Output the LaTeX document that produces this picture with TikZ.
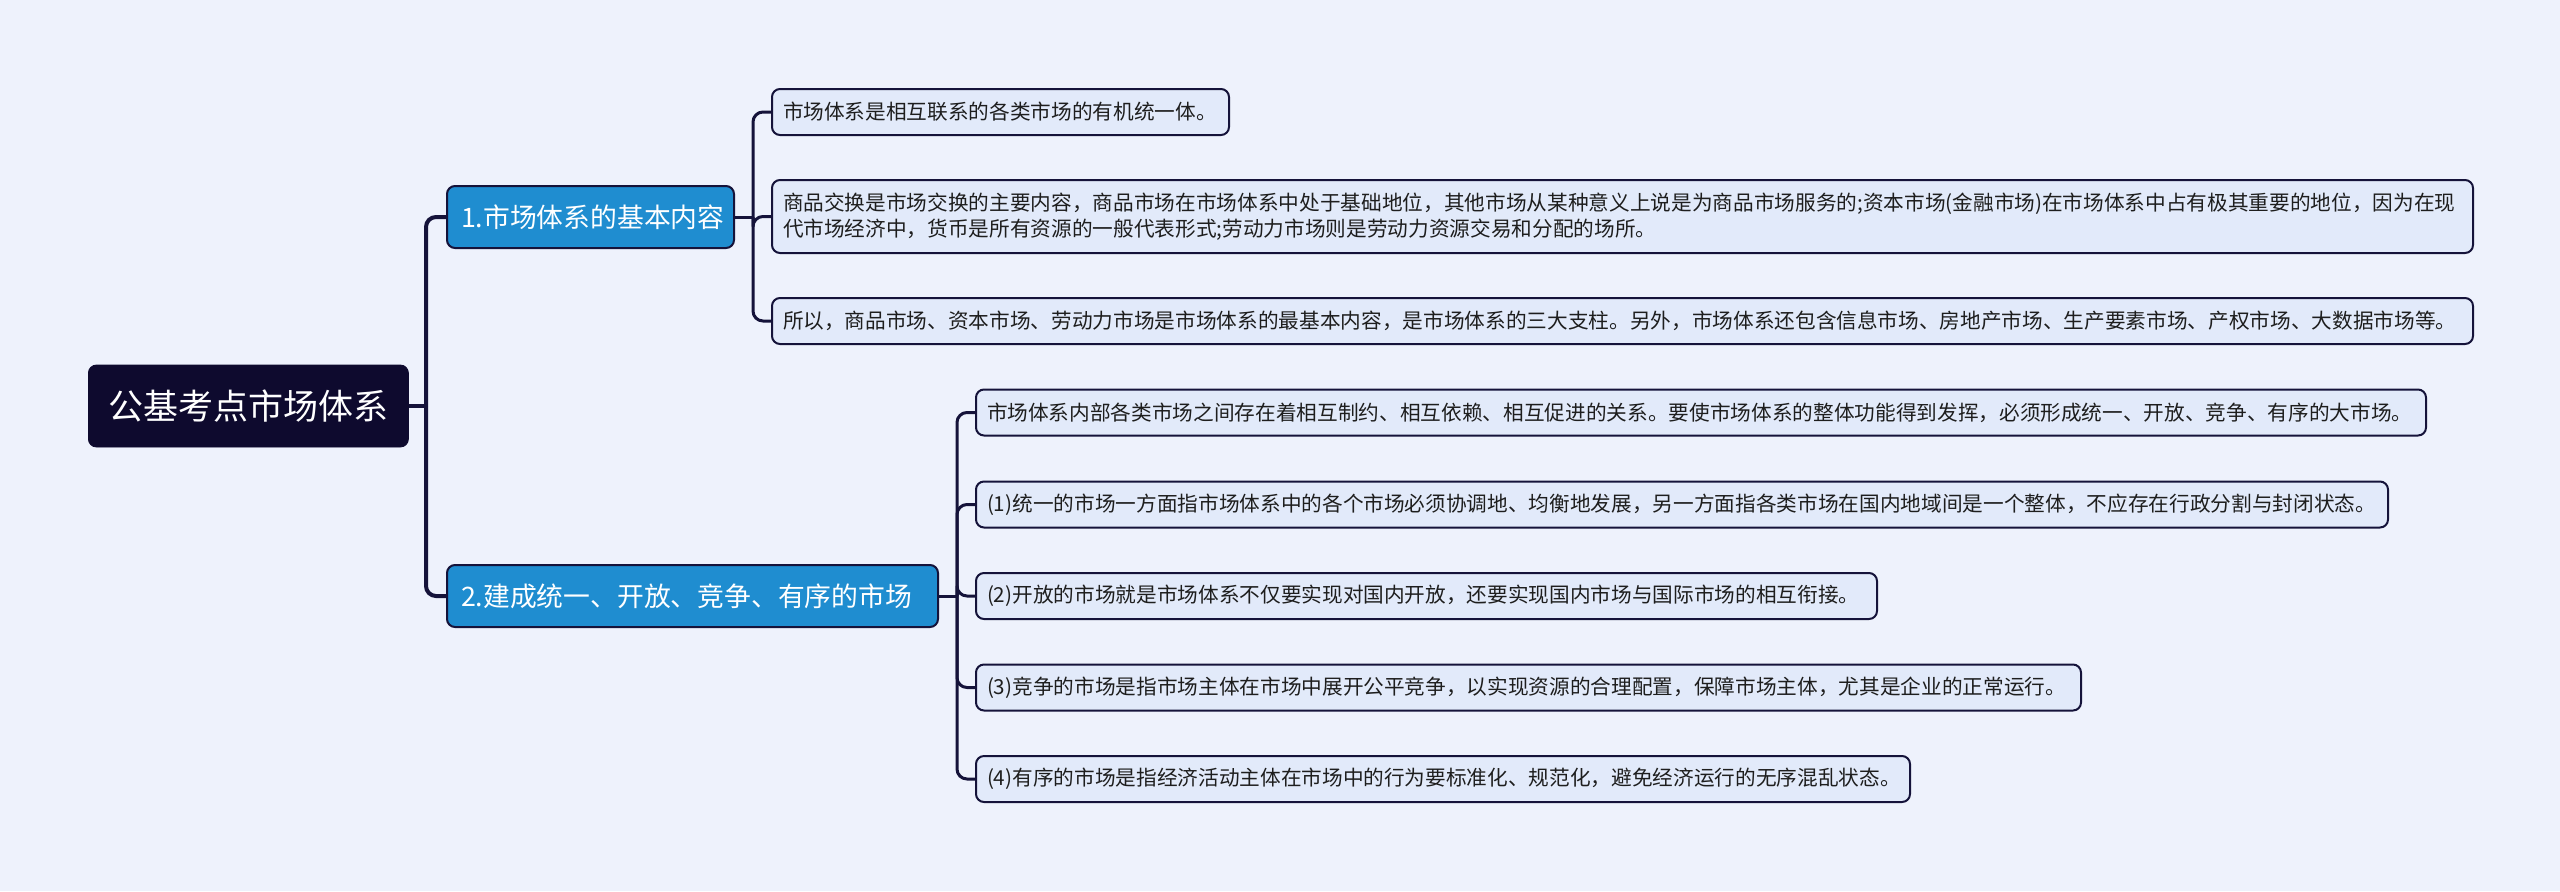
\documentclass[tikz,border=0pt]{standalone}
\usepackage{fontspec}
\setmainfont{Noto Sans CJK SC}
\definecolor{bgc}{HTML}{EEF2FC}
\definecolor{leaffill}{HTML}{E2EAFA}
\definecolor{branchfill}{HTML}{1F8DD0}
\definecolor{rootfill}{HTML}{0E0A2E}
\definecolor{linec}{HTML}{15133A}
\definecolor{textc}{HTML}{1E1E1E}
\begin{document}
\begin{tikzpicture}[x=0.5pt,y=-0.5pt,
  conn/.style={draw=linec, line width=1.5pt, rounded corners=5pt},
  rootconn/.style={draw=linec, line width=2pt, rounded corners=5pt},
  leaf/.style={draw=linec, line width=1pt, fill=leaffill, rounded corners=4pt, anchor=west,
    inner xsep=5.5pt, inner ysep=0pt, minimum height=23pt, align=left,
    font=\fontsize{10.33pt}{13pt}\selectfont, text=textc},
  branch/.style={draw=linec, line width=1pt, fill=branchfill, rounded corners=4pt, anchor=west,
    inner xsep=7pt, inner ysep=0pt, minimum height=31pt, align=left,
    font=\fontsize{13.4pt}{16pt}\selectfont, text=white},
  rootnode/.style={fill=rootfill, draw=rootfill, rounded corners=4pt, anchor=west,
    minimum width=160pt, minimum height=41pt, inner sep=0pt,
    font=\fontsize{17.5pt}{21pt}\selectfont, text=white}]
\fill[bgc] (0,0) rectangle (2560,891);
\useasboundingbox (0,0) rectangle (2560,891);

% nodes
\node[rootnode] (root) at (88,406) {公基考点市场体系};
\node[branch, text width=129.5pt] (b1) at (446,217) {1.市场体系的基本内容};
\node[branch, text width=231.5pt] (b2) at (446,596) {2.建成统一、开放、竞争、有序的市场};

\node[leaf, text width=217.5pt] (l1) at (771,112) {市场体系是相互联系的各类市场的有机统一体。};
\node[leaf, text width=839.5pt, minimum height=36.5pt] (l2) at (771,216.5) {商品交换是市场交换的主要内容，商品市场在市场体系中处于基础地位，其他市场从某种意义上说是为商品市场服务的;资本市场(金融市场)在市场体系中占有极其重要的地位，因为在现\\代市场经济中，货币是所有资源的一般代表形式;劳动力市场则是劳动力资源交易和分配的场所。};
\node[leaf, text width=839.5pt] (l3) at (771,321) {所以，商品市场、资本市场、劳动力市场是市场体系的最基本内容，是市场体系的三大支柱。另外，市场体系还包含信息市场、房地产市场、生产要素市场、产权市场、大数据市场等。};

\node[leaf, text width=714pt] (m0) at (975,412.5) {市场体系内部各类市场之间存在着相互制约、相互依赖、相互促进的关系。要使市场体系的整体功能得到发挥，必须形成统一、开放、竞争、有序的大市场。};
\node[leaf, text width=695pt] (m1) at (975,504.5) {(1)统一的市场一方面指市场体系中的各个市场必须协调地、均衡地发展，另一方面指各类市场在国内地域间是一个整体，不应存在行政分割与封闭状态。};
\node[leaf, text width=439.5pt] (m2) at (975,596) {(2)开放的市场就是市场体系不仅要实现对国内开放，还要实现国内市场与国际市场的相互衔接。};
\node[leaf, text width=541.5pt] (m3) at (975,687.5) {(3)竞争的市场是指市场主体在市场中展开公平竞争，以实现资源的合理配置，保障市场主体，尤其是企业的正常运行。};
\node[leaf, text width=456pt] (m4) at (975,779) {(4)有序的市场是指经济活动主体在市场中的行为要标准化、规范化，避免经济运行的无序混乱状态。};

% junctions
\coordinate (j0) at (426,406);
\coordinate (j1) at (753,217);
\coordinate (j2) at (957,596);

% connectors
\draw[rootconn] (root.east) -- (j0);
\draw[rootconn] (j0) |- (b1.west);
\draw[rootconn] (j0) |- (b2.west);

\draw[conn] (b1.east) -- (j1);
\draw[conn] (j1) |- (l1.west);
\draw[conn] (j1) |- (l2.west);
\draw[conn] (j1) |- (l3.west);

\draw[conn] (b2.east) -- (j2);
\foreach \m in {m0,m1,m2,m3,m4} {
  \draw[conn] (j2) |- (\m.west);
}
\end{tikzpicture}
\end{document}
